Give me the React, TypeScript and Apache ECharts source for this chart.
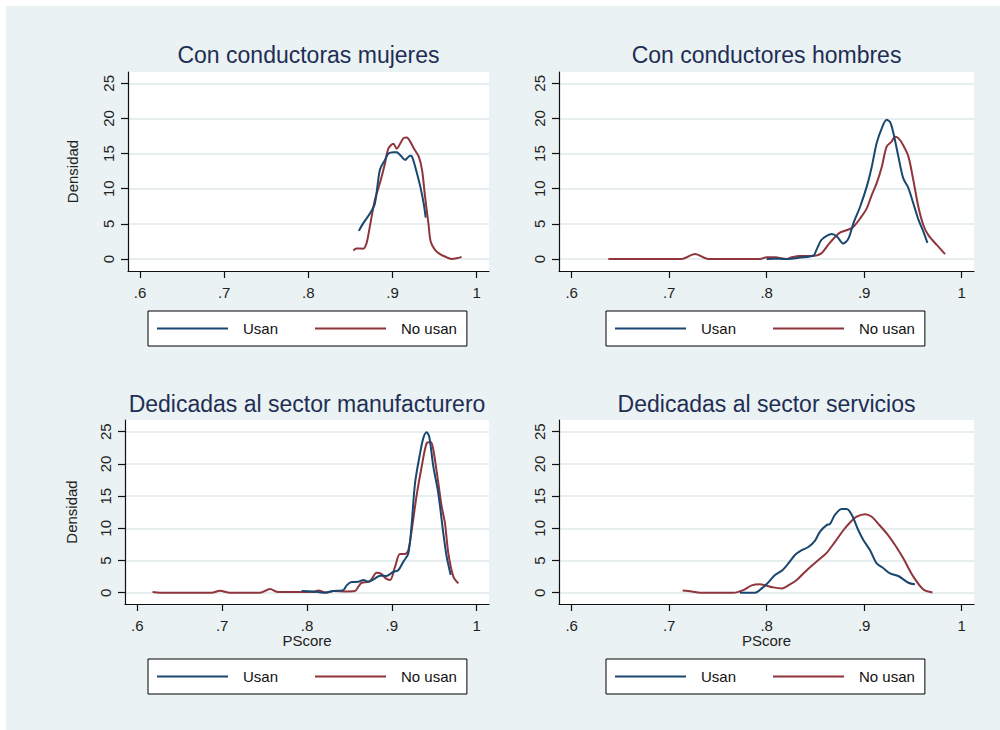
import React, { useEffect, useRef } from "react";
import * as echarts from "echarts";

// Kernel densities of the propensity score, points are [pscore, density]
const mujeresUsan: [number, number][] = [
  [0.86, 4.0], [0.8653, 5.1], [0.8733, 6.5], [0.879, 7.9], [0.885, 12.7], [0.891, 14.1],
  [0.895, 15.0], [0.901, 15.2], [0.905, 15.2], [0.909, 14.8], [0.915, 14.1], [0.917, 14.3],
  [0.921, 14.7], [0.923, 14.6], [0.927, 13.1], [0.933, 10.3], [0.937, 7.9], [0.9394, 5.9],
];
const mujeresNoUsan: [number, number][] = [
  [0.8535, 1.2], [0.857, 1.5], [0.865, 1.47], [0.869, 2.2], [0.873, 4.6], [0.879, 8.4],
  [0.885, 10.8], [0.891, 13.6], [0.895, 15.7], [0.901, 16.4], [0.905, 15.7], [0.909, 16.4],
  [0.913, 17.2], [0.917, 17.3], [0.921, 16.7], [0.925, 15.8], [0.931, 14.6], [0.935, 12.7],
  [0.9386, 8.9], [0.9426, 5.1], [0.9453, 2.5], [0.9505, 1.3], [0.9564, 0.7], [0.9644, 0.24],
  [0.9703, 0.0], [0.9762, 0.1], [0.982, 0.3],
];
const hombresUsan: [number, number][] = [
  [0.8, 0.0], [0.807, 0.05], [0.8205, 0.0], [0.834, 0.2], [0.848, 0.5], [0.851, 1.3],
  [0.856, 2.7], [0.8615, 3.3], [0.8667, 3.55], [0.872, 3.2], [0.8786, 2.2], [0.8838, 2.9],
  [0.889, 5.1], [0.8957, 7.4], [0.9026, 10.3], [0.9077, 13.1], [0.9128, 16.5], [0.918, 18.6],
  [0.923, 19.8], [0.9265, 19.5], [0.93, 17.9], [0.935, 14.6], [0.94, 11.5], [0.9453, 10.1],
  [0.9504, 7.9], [0.9556, 5.6], [0.9607, 3.9], [0.9648, 2.3],
];
const hombresNoUsan: [number, number][] = [
  [0.6376, 0.0], [0.68, 0.0], [0.7128, 0.0], [0.7265, 0.7], [0.74, 0.0], [0.77, 0.0],
  [0.793, 0.0], [0.8, 0.24], [0.8085, 0.24], [0.8205, 0.0], [0.8256, 0.24], [0.834, 0.43],
  [0.848, 0.43], [0.856, 0.8], [0.863, 2.0], [0.868, 2.8], [0.875, 3.75], [0.884, 4.2],
  [0.889, 4.6], [0.896, 5.8], [0.9026, 7.2], [0.9077, 9.1], [0.9128, 10.8], [0.918, 13.1],
  [0.923, 16.0], [0.928, 16.7], [0.9316, 17.4], [0.935, 17.2], [0.94, 16.2], [0.9453, 14.6],
  [0.9504, 11.2], [0.9556, 7.4], [0.9607, 4.8], [0.9658, 3.4], [0.9744, 2.0], [0.9829, 0.7],
];
const manufUsan: [number, number][] = [
  [0.7937, 0.26], [0.8075, 0.2], [0.8193, 0.0], [0.831, 0.26], [0.8428, 0.41], [0.8467, 1.14],
  [0.8526, 1.66], [0.8605, 1.7], [0.8664, 1.97], [0.8723, 1.7], [0.88, 2.2], [0.886, 2.64],
  [0.8939, 2.6], [0.9018, 3.26], [0.9076, 3.5], [0.9135, 4.8], [0.9194, 6.1], [0.9234, 10.7],
  [0.9273, 17.0], [0.9332, 21.6], [0.9371, 24.0], [0.941, 24.9], [0.9441, 24.2], [0.9489, 19.6],
  [0.9548, 15.4], [0.9607, 9.2], [0.9646, 5.6], [0.9694, 2.74],
];
const manufNoUsan: [number, number][] = [
  [0.618, 0.1], [0.6267, 0.0], [0.66, 0.0], [0.6876, 0.0], [0.6974, 0.3], [0.709, 0.0],
  [0.73, 0.0], [0.7446, 0.0], [0.7564, 0.57], [0.766, 0.1], [0.784, 0.1], [0.8075, 0.1],
  [0.8134, 0.36], [0.8232, 0.0], [0.831, 0.26], [0.8467, 0.2], [0.8566, 0.26], [0.8605, 0.93],
  [0.8644, 1.55], [0.8723, 1.7], [0.876, 2.07], [0.882, 3.1], [0.888, 2.9], [0.892, 2.3],
  [0.8978, 1.97], [0.9037, 4.0], [0.9096, 6.0], [0.9155, 6.0], [0.9194, 6.6], [0.9234, 9.7],
  [0.9293, 15.2], [0.9352, 19.6], [0.941, 23.2], [0.9458, 23.4], [0.9489, 22.2], [0.9548, 17.0],
  [0.9587, 13.4], [0.9626, 10.8], [0.9666, 6.1], [0.9725, 2.5], [0.9784, 1.45],
];
const serviciosUsan: [number, number][] = [
  [0.7726, 0.0], [0.788, 0.0], [0.7949, 0.67], [0.8, 1.35], [0.8085, 2.74], [0.8154, 3.4],
  [0.8222, 4.55], [0.829, 5.85], [0.8359, 6.6], [0.8427, 7.1], [0.8496, 8.1], [0.8547, 9.5],
  [0.8615, 10.5], [0.865, 10.7], [0.87, 12.1], [0.8769, 13.0], [0.882, 13.0], [0.8872, 12.1],
  [0.894, 9.7], [0.8991, 8.2], [0.906, 6.6], [0.9128, 4.55], [0.9197, 3.8], [0.9265, 3.0],
  [0.935, 2.6], [0.9453, 1.55], [0.952, 1.3],
];
const serviciosNoUsan: [number, number][] = [
  [0.7138, 0.36], [0.7231, 0.2], [0.7316, 0.0], [0.75, 0.0], [0.7658, 0.0], [0.776, 0.41],
  [0.7846, 1.14], [0.7932, 1.3], [0.8, 1.09], [0.8068, 0.83], [0.8154, 0.67], [0.8239, 1.3],
  [0.8308, 1.97], [0.8376, 3.0], [0.8462, 4.2], [0.853, 5.07], [0.8615, 6.2], [0.87, 7.9],
  [0.8786, 9.7], [0.8855, 10.9], [0.8923, 11.8], [0.9009, 12.2], [0.9077, 11.8], [0.9145, 10.7],
  [0.9231, 9.2], [0.9316, 7.4], [0.9402, 5.3], [0.9504, 2.5], [0.9607, 0.5], [0.97, 0.05],
];

const panelTitles = [
  "Con conductoras mujeres",
  "Con conductores hombres",
  "Dedicadas al sector manufacturero",
  "Dedicadas al sector servicios",
];
const seriesNames = ["Usan", "No usan"];
const panelSeries = [
  [mujeresUsan, mujeresNoUsan],
  [hombresUsan, hombresNoUsan],
  [manufUsan, manufNoUsan],
  [serviciosUsan, serviciosNoUsan],
];
const xTickValues = [0.6, 0.7, 0.8, 0.9, 1];
const yTickValues = [0, 5, 10, 15, 20, 25];
const xAxisTitle = "PScore";
const yAxisTitle = "Densidad";

// Page geometry (page pixels); the chart surface starts at ORIGIN
const ORIGIN = 6;
const FONT = "'Liberation Sans', Arial, Helvetica, sans-serif";
const NAVY = "#1A476F";
const MAROON = "#90353B";
const TITLE_COLOR = "#1F2E55";
const GRID_LINE = "#E6EEF0";

const layouts = [
  { left: 128, top: 72, width: 361, height: 199, xMin: 0.5857, xMax: 1.0146, yMin: -1.71, yMax: 26.61,
    titleY: 54.5, legendLeft: 148, legendTop: 311, yName: true, yNameGap: 48, xName: false },
  { left: 559, top: 72, width: 415, height: 199, xMin: 0.587, xMax: 1.0126, yMin: -1.71, yMax: 26.61,
    titleY: 54.5, legendLeft: 606, legendTop: 311, yName: false, yNameGap: 48, xName: false },
  { left: 125, top: 420, width: 364, height: 184, xMin: 0.5855, xMax: 1.0145, yMin: -1.75, yMax: 26.82,
    titleY: 403.5, legendLeft: 148, legendTop: 659, yName: true, yNameGap: 46, xName: true },
  { left: 559, top: 420, width: 415, height: 184, xMin: 0.587, xMax: 1.0126, yMin: -1.75, yMax: 26.82,
    titleY: 403.5, legendLeft: 606, legendTop: 659, yName: false, yNameGap: 46, xName: true },
];

const fmtX = (v: number) => (v >= 1 ? "1" : String(Number(v.toFixed(1))).replace(/^0\./, "."));

function buildOption(): echarts.EChartsOption {
  const axisLine = { show: true, onZero: false, lineStyle: { color: "#111", width: 1.2 } };
  const labelStyle = { fontFamily: FONT, fontSize: 15, color: "#222" };

  const grid = layouts.map((l) => ({
    left: l.left - ORIGIN,
    top: l.top - ORIGIN,
    width: l.width,
    height: l.height,
    show: true,
    backgroundColor: "#ffffff",
    borderWidth: 0,
    containLabel: false,
  }));

  const xAxis = layouts.map((l, i) => ({
    type: "value" as const,
    gridIndex: i,
    min: l.xMin,
    max: l.xMax,
    axisLine,
    axisTick: { show: true, length: 7, customValues: xTickValues, lineStyle: { color: "#111", width: 1.2 } },
    axisLabel: { customValues: xTickValues, formatter: fmtX, margin: 13.5, ...labelStyle },
    splitLine: { show: false },
    name: l.xName ? xAxisTitle : "",
    nameLocation: "middle" as const,
    nameGap: 28,
    nameTextStyle: labelStyle,
  }));

  const yAxis = layouts.map((l, i) => ({
    type: "value" as const,
    gridIndex: i,
    min: l.yMin,
    max: l.yMax,
    axisLine,
    axisTick: { show: true, length: 7, customValues: yTickValues, lineStyle: { color: "#111", width: 1.2 } },
    axisLabel: { customValues: yTickValues, rotate: 90, margin: 12, ...labelStyle },
    splitLine: { show: true, lineStyle: { color: GRID_LINE, width: 2 } },
    name: l.yName ? yAxisTitle : "",
    nameLocation: "middle" as const,
    nameRotate: 90,
    nameGap: l.yNameGap,
    nameTextStyle: labelStyle,
  }));

  const series = panelSeries.flatMap((pair, i) =>
    pair.map((data, k) => ({
      type: "line" as const,
      name: seriesNames[k],
      xAxisIndex: i,
      yAxisIndex: i,
      data,
      smooth: 0.3,
      symbol: "none",
      showSymbol: false,
      lineStyle: { color: k === 0 ? NAVY : MAROON, width: 2 },
      itemStyle: { color: k === 0 ? NAVY : MAROON },
      z: k === 0 ? 3 : 2,
    }))
  );

  // Each panel carries its own boxed key: a plain line sample followed by the label
  const legend = layouts.map((l) => ({
    left: l.legendLeft - ORIGIN,
    top: l.legendTop - ORIGIN,
    orient: "horizontal" as const,
    data: seriesNames,
    icon: "rect",
    backgroundColor: "#ffffff",
    borderColor: "#000",
    borderWidth: 1,
    borderRadius: 0,
    padding: [10, 10, 10, 9],
    itemWidth: 71,
    itemHeight: 2,
    itemGap: 37,
    selectedMode: false,
    textStyle: { fontFamily: FONT, fontSize: 15, color: "#111", padding: [0, 0, 0, 10] },
  }));

  const graphic = layouts.map((l, i) => ({
    type: "text" as const,
    x: l.left + l.width / 2 - ORIGIN,
    y: l.titleY - ORIGIN,
    style: {
      text: panelTitles[i],
      fill: TITLE_COLOR,
      fontFamily: FONT,
      fontSize: 23,
      align: "center",
      verticalAlign: "middle",
    },
  }));

  return {
    animation: false,
    backgroundColor: "#EAF2F3",
    grid,
    xAxis,
    yAxis,
    series,
    legend,
    graphic,
  } as echarts.EChartsOption;
}

export default function App() {
  const ref = useRef<HTMLDivElement>(null);
  useEffect(() => {
    if (!ref.current) return;
    const chart = echarts.init(ref.current, undefined, { renderer: "svg" });
    chart.setOption(buildOption());
    return () => chart.dispose();
  }, []);
  return (
    <div
      ref={ref}
      style={{
        position: "absolute",
        left: ORIGIN,
        top: ORIGIN,
        width: 1000 - ORIGIN,
        height: 730 - ORIGIN,
      }}
    />
  );
}
